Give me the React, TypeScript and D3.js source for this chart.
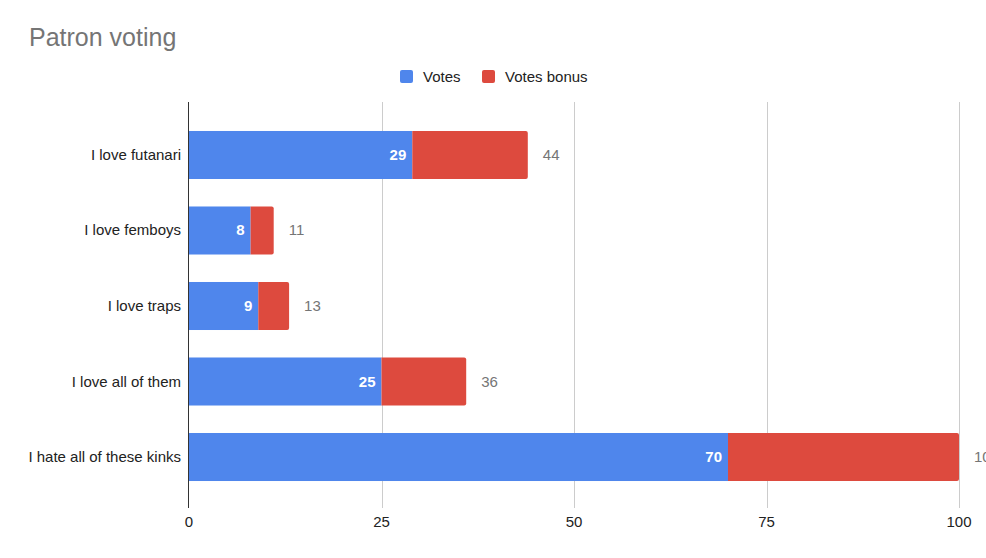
import React, { useEffect, useRef } from "react";
import * as d3 from "d3";

const categories = [
  "I love futanari",
  "I love femboys",
  "I love traps",
  "I love all of them",
  "I hate all of these kinks",
];
const votes = [29, 8, 9, 25, 70];
const votesBonus = [15, 3, 4, 11, 30];
const xTicks = [0, 25, 50, 75, 100];
const seriesNames = ["Votes", "Votes bonus"];
const seriesColors = ["#4f86ec", "#dd4a3e"];

const W = 986;
const H = 558;
const FONT = "Arial, 'Liberation Sans', sans-serif";

const App: React.FC = () => {
  const svgRef = useRef<SVGSVGElement | null>(null);

  useEffect(() => {
    const svg = d3.select(svgRef.current);
    svg.selectAll("*").remove();

    const x = d3.scaleLinear().domain([0, 100]).range([189, 959]);
    const y = d3
      .scaleBand()
      .domain(categories)
      .range([103.5, 508.5])
      .padding(0.364);

    svg.append("rect").attr("width", W).attr("height", H).attr("fill", "#fff");

    // title
    svg
      .append("text")
      .attr("x", 29)
      .attr("y", 46)
      .attr("font-size", 25)
      .attr("fill", "#757575")
      .text("Patron voting");

    // legend
    const legend = svg.append("g").attr("font-size", 15).attr("fill", "#222");
    const legendX = [400, 482];
    seriesNames.forEach((name, i) => {
      legend
        .append("rect")
        .attr("x", legendX[i])
        .attr("y", 70)
        .attr("width", 13)
        .attr("height", 13)
        .attr("rx", 2)
        .attr("fill", seriesColors[i]);
      legend
        .append("text")
        .attr("x", legendX[i] + 23)
        .attr("y", 82)
        .text(name);
    });

    // gridlines
    svg
      .append("g")
      .selectAll("line")
      .data(xTicks.slice(1))
      .enter()
      .append("line")
      .attr("x1", (d) => Math.round(x(d)) + 0.5)
      .attr("x2", (d) => Math.round(x(d)) + 0.5)
      .attr("y1", 102)
      .attr("y2", 508)
      .attr("stroke", "#cccccc");

    // tick labels
    svg
      .append("g")
      .selectAll("text")
      .data(xTicks)
      .enter()
      .append("text")
      .attr("x", (d) => x(d))
      .attr("y", 527)
      .attr("text-anchor", "middle")
      .attr("font-size", 15)
      .attr("fill", "#222")
      .text((d) => d);

    // category labels
    svg
      .append("g")
      .selectAll("text")
      .data(categories)
      .enter()
      .append("text")
      .attr("x", 181)
      .attr("y", (d) => y(d)! + y.bandwidth() / 2 + 5)
      .attr("text-anchor", "end")
      .attr("font-size", 15)
      .attr("fill", "#222")
      .text((d) => d);

    const rows = categories.map((c, i) => ({
      c,
      v: votes[i],
      b: votesBonus[i],
    }));

    // blue bars
    svg
      .append("g")
      .selectAll("rect")
      .data(rows)
      .enter()
      .append("rect")
      .attr("x", x(0))
      .attr("y", (d) => y(d.c)!)
      .attr("width", (d) => x(d.v) - x(0))
      .attr("height", y.bandwidth())
      .attr("fill", seriesColors[0]);

    // red bars (rounded right end)
    svg
      .append("g")
      .selectAll("path")
      .data(rows)
      .enter()
      .append("path")
      .attr("d", (d) => {
        const x0 = x(d.v);
        const x1 = x(d.v + d.b);
        const y0 = y(d.c)!;
        const h = y.bandwidth();
        const r = 2;
        return `M${x0},${y0}H${x1 - r}Q${x1},${y0} ${x1},${y0 + r}V${
          y0 + h - r
        }Q${x1},${y0 + h} ${x1 - r},${y0 + h}H${x0}Z`;
      })
      .attr("fill", seriesColors[1]);

    // inner value labels
    svg
      .append("g")
      .selectAll("text")
      .data(rows)
      .enter()
      .append("text")
      .attr("x", (d) => x(d.v) - 6)
      .attr("y", (d) => y(d.c)! + y.bandwidth() / 2 + 5)
      .attr("text-anchor", "end")
      .attr("font-size", 15)
      .attr("font-weight", "bold")
      .attr("fill", "#fff")
      .text((d) => d.v);

    // total labels
    svg
      .append("g")
      .selectAll("text")
      .data(rows)
      .enter()
      .append("text")
      .attr("x", (d) => x(d.v + d.b) + 15)
      .attr("y", (d) => y(d.c)! + y.bandwidth() / 2 + 5)
      .attr("font-size", 15)
      .attr("fill", "#757575")
      .text((d) => d.v + d.b);

    // baseline axis
    svg
      .append("line")
      .attr("x1", Math.round(x(0)) - 0.5)
      .attr("x2", Math.round(x(0)) - 0.5)
      .attr("y1", 102)
      .attr("y2", 508)
      .attr("stroke", "#333")
      .attr("stroke-width", 1);
  }, []);

  return (
    <svg
      ref={svgRef}
      width={W}
      height={H}
      style={{
        position: "absolute",
        left: 0,
        top: 0,
        fontFamily: FONT,
      }}
    />
  );
};

export default App;
